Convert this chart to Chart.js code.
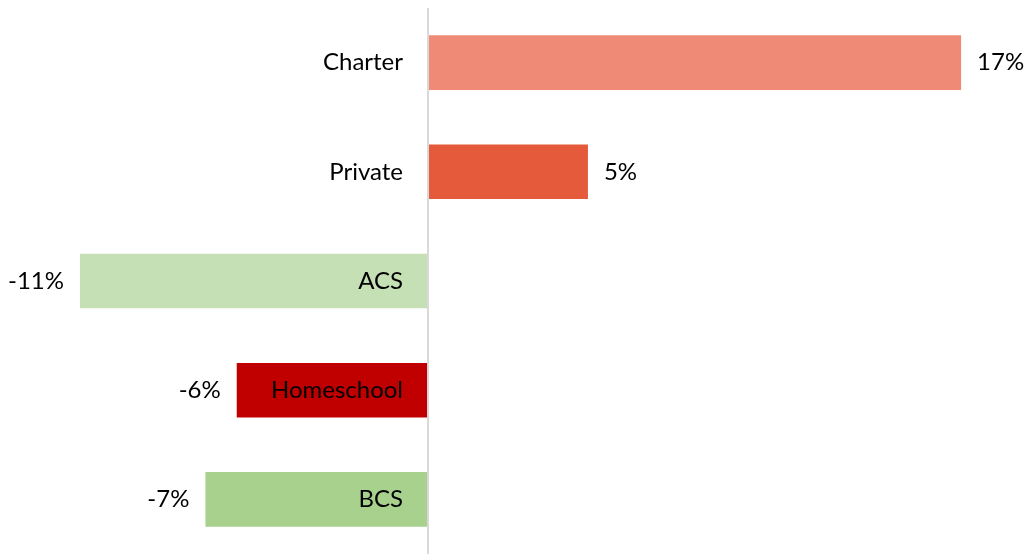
<!DOCTYPE html>
<html>
<head>
<meta charset="utf-8">
<script src="https://cdn.jsdelivr.net/npm/chart.js@4"></script>
<style>
  html, body { margin: 0; padding: 0; background: #fff; }
  #wrap { width: 1026px; height: 554px; position: relative; }
</style>
</head>
<body>
<div id="wrap"><canvas id="chart"></canvas></div>
<script>
const categories = ['Charter', 'Private', 'ACS', 'Homeschool', 'BCS'];
const changes = [17.0, 5.1, -11.1, -6.1, -7.1];
const barColors = ['#EE8A75', '#E45A3B', '#C5E0B4', '#C00000', '#A9D18E'];

const FONT = '24px Lato, "Open Sans", sans-serif';

// labels: category name left of zero line, value at bar end
const labelPlugin = {
  id: 'labels',
  afterDatasetsDraw(chart) {
    const ctx = chart.ctx;
    const meta = chart.getDatasetMeta(0);
    const xs = chart.scales.x;
    const zero = xs.getPixelForValue(0);
    ctx.save();
    ctx.font = FONT;
    ctx.fillStyle = '#000';
    ctx.textBaseline = 'middle';
    meta.data.forEach((bar, i) => {
      const v = changes[i];
      const y = bar.y;
      ctx.textAlign = 'right';
      ctx.fillText(categories[i], zero - 25, y);
      const txt = Math.round(v) + '%';
      if (v >= 0) {
        ctx.textAlign = 'left';
        ctx.fillText(txt, bar.x + 16, y);
      } else {
        ctx.textAlign = 'right';
        ctx.fillText(txt, bar.x - 16, y);
      }
    });
    // zero line
    ctx.strokeStyle = '#D9D9D9';
    ctx.lineWidth = 2;
    ctx.beginPath();
    ctx.moveTo(zero, chart.chartArea.top);
    ctx.lineTo(zero, chart.height);
    ctx.stroke();
    ctx.restore();
  }
};

new Chart(document.getElementById('chart'), {
  type: 'bar',
  data: {
    labels: categories,
    datasets: [{
      data: changes,
      backgroundColor: barColors,
      borderWidth: 0,
      barPercentage: 0.5,
      categoryPercentage: 1.0
    }]
  },
  options: {
    indexAxis: 'y',
    responsive: true,
    maintainAspectRatio: false,
    animation: false,
    layout: { padding: { top: 8, left: 0, right: 0, bottom: 0 } },
    plugins: {
      legend: { display: false },
      tooltip: { enabled: false }
    },
    scales: {
      x: { display: false, min: -13.65, max: 19.07 },
      y: { display: false }
    }
  },
  plugins: [labelPlugin]
});
</script>
</body>
</html>
